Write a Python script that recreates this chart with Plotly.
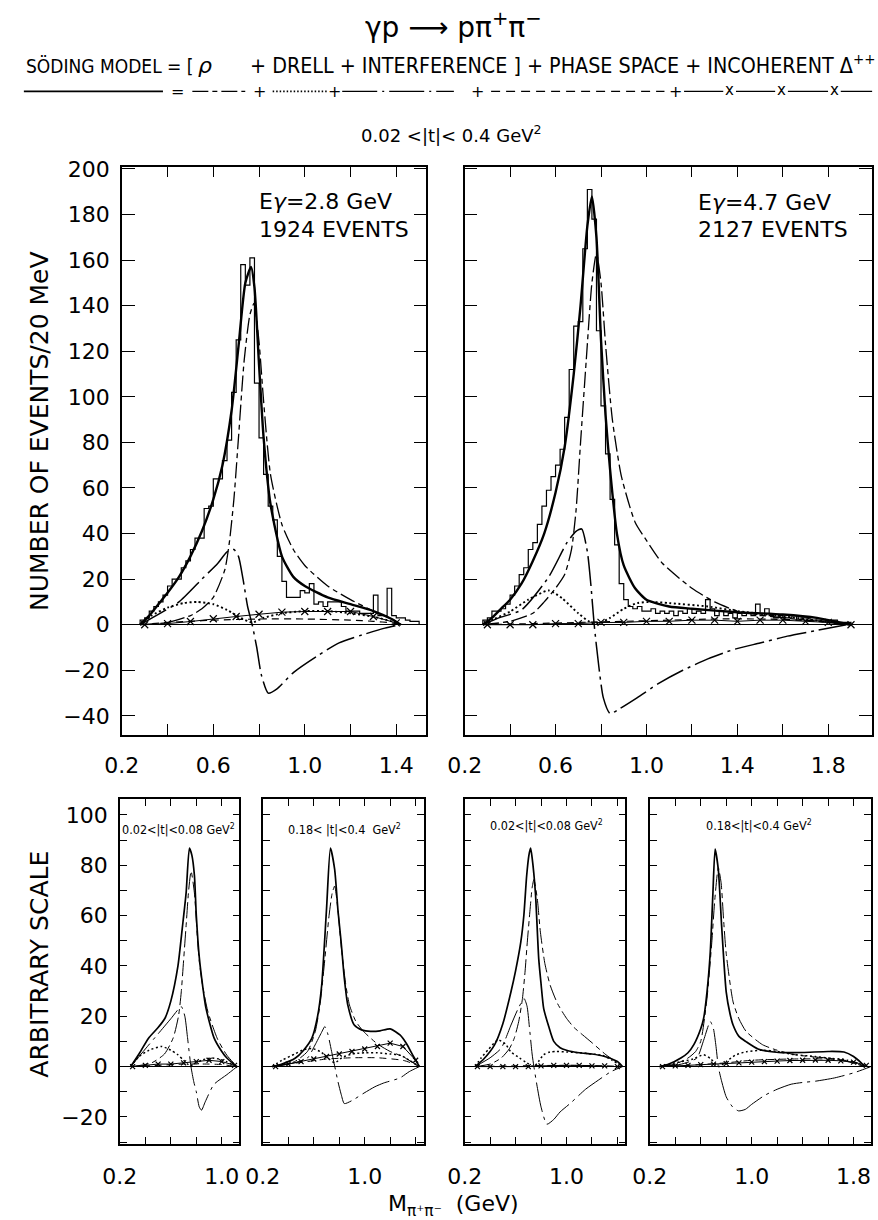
import plotly.graph_objects as go

W, H = 878, 1220
FONT = "DejaVu Sans"
NARROW = "Liberation Sans Narrow, DejaVu Sans Condensed, Arial Narrow, DejaVu Sans"

# ---------------- DATA ----------------
BIN = 0.02
# top-left: E_gamma = 2.8 GeV, histogram (20 MeV bins starting at 0.28 GeV)
tl_hist_start = 0.28
tl_hist = [2, 3, 6, 8, 10, 13, 17, 20, 20, 25, 28, 33, 38, 38, 51, 52, 64, 64, 72, 81,
           102, 125, 158, 149, 161, 106, 82, 66, 52, 46, 30, 19, 12, 12, 12, 15, 14, 18, 9, 10,
           8, 10, 10, 10, 8, 6, 6, 6, 5, 5, 5, 13, 4, 4, 16, 4, 3, 3, 2, 1.5, 1.5]
tl_total_x = [0.28, 0.32, 0.36, 0.40, 0.45, 0.50, 0.55, 0.60, 0.64, 0.68, 0.71, 0.74, 0.765, 0.78, 0.80, 0.82, 0.85, 0.90, 0.95, 1.0, 1.1, 1.2, 1.3, 1.38, 1.42]
tl_total_y = [0, 4, 9, 14, 21, 30, 41, 55, 70, 94, 122, 150, 157, 148, 114, 82, 53, 30, 21, 17, 12, 9, 6, 2.5, 0]
tl_rho_x = [0.28, 0.40, 0.50, 0.55, 0.60, 0.65, 0.67, 0.69, 0.71, 0.735, 0.76, 0.778, 0.80, 0.82, 0.85, 0.90, 0.95, 1.0, 1.1, 1.2, 1.3, 1.38, 1.42]
tl_rho_y = [0, 1, 4, 7, 12, 24, 36, 55, 82, 116, 136, 141, 124, 98, 66, 44, 33, 26, 17, 11, 6, 2.5, 0]
tl_int_x = [0.28, 0.35, 0.45, 0.55, 0.62, 0.66, 0.69, 0.71, 0.73, 0.75, 0.77, 0.79, 0.81, 0.84, 0.88, 0.95, 1.05, 1.15, 1.25, 1.35, 1.42]
tl_int_y = [0, 4, 10, 20, 27, 32, 33, 30, 20, 8, 0, -10, -22, -30, -28, -21, -14, -8, -4.5, -1.5, 0]
tl_drell_x = [0.28, 0.33, 0.40, 0.47, 0.53, 0.60, 0.66, 0.72, 0.77, 0.82, 0.90, 1.0, 1.1, 1.2, 1.3, 1.38, 1.42]
tl_drell_y = [0, 4, 7.5, 9.5, 10, 9, 6.5, 3, 1, 3, 5, 6, 6, 5, 3.5, 1.5, 0]
tl_ps_x = [0.28, 0.4, 0.5, 0.6, 0.8, 1.0, 1.2, 1.3, 1.38, 1.42]
tl_ps_y = [0, 1, 1.5, 2, 2.5, 2.5, 2, 1.5, 0.8, 0]
tl_delta_x = [0.3, 0.4, 0.5, 0.6, 0.7, 0.8, 0.9, 1.0, 1.1, 1.2, 1.3, 1.4]
tl_delta_y = [0, 0.5, 1.4, 2.6, 3.6, 4.6, 5.5, 5.8, 5.8, 5.8, 3.6, 0.8]

# top-right: E_gamma = 4.7 GeV
tr_hist_start = 0.28
tr_hist = [2, 3, 6, 6, 7, 9, 13, 17, 22, 25, 33, 36, 44, 52, 59, 65, 70, 77, 91, 112,
           131, 133, 165, 191, 178, 129, 96, 75, 55, 35, 18, 11, 8, 7, 8, 6, 6, 7, 5, 6,
           5, 6, 4, 6, 5, 7, 5, 6, 5, 11, 7, 4, 6, 4, 5, 3, 5, 4, 5, 4,
           9, 4, 7, 4, 3, 4, 3, 3, 4, 2, 3, 3, 2, 2, 2, 2, 1, 2, 1, 1, 1]
tr_total_x = [0.28, 0.32, 0.36, 0.40, 0.45, 0.50, 0.55, 0.60, 0.64, 0.68, 0.71, 0.74, 0.76, 0.78, 0.80, 0.82, 0.84, 0.87, 0.90, 0.95, 1.0, 1.1, 1.2, 1.4, 1.6, 1.75, 1.85, 1.90]
tr_total_y = [0, 3, 7, 11, 18, 28, 40, 58, 78, 110, 140, 175, 188, 170, 125, 92, 68, 40, 26, 16, 11, 8, 7, 5.5, 4.5, 3, 1, 0]
tr_rho_x = [0.28, 0.40, 0.50, 0.55, 0.60, 0.64, 0.67, 0.69, 0.71, 0.735, 0.76, 0.78, 0.80, 0.82, 0.85, 0.89, 0.95, 1.0, 1.07, 1.2, 1.3, 1.4, 1.55, 1.7, 1.85, 1.90]
tr_rho_y = [0, 1.5, 5, 10, 16, 22, 33, 50, 80, 116, 150, 163, 150, 123, 90, 65, 45, 37, 27, 16, 10, 6, 3.6, 2, 0.5, 0]
tr_int_x = [0.28, 0.35, 0.45, 0.57, 0.65, 0.69, 0.715, 0.74, 0.755, 0.77, 0.79, 0.81, 0.84, 0.88, 0.96, 1.05, 1.16, 1.27, 1.38, 1.5, 1.62, 1.75, 1.88]
tr_int_y = [0, 3, 6.5, 21, 36, 41, 42, 32, 18, 0, -18, -32, -39, -37, -32, -26, -20, -15, -11, -8, -5, -2.5, 0]
tr_drell_x = [0.28, 0.33, 0.40, 0.48, 0.57, 0.63, 0.70, 0.76, 0.80, 0.84, 0.90, 0.96, 1.02, 1.1, 1.27, 1.4, 1.55, 1.7, 1.84, 1.90]
tr_drell_y = [0, 2.5, 5.8, 11, 15, 11.5, 5, 0.7, 1, 3, 7, 9.5, 10, 9.5, 8, 6, 4.3, 2.5, 0.7, 0]
tr_ps_x = [0.28, 0.5, 0.7, 0.9, 1.1, 1.3, 1.5, 1.7, 1.82, 1.90]
tr_ps_y = [0, 0.5, 1, 1.5, 2, 2.5, 2.5, 2, 1, 0]
tr_delta_x = [0.3, 0.4, 0.5, 0.6, 0.7, 0.8, 0.9, 1.0, 1.1, 1.2, 1.3, 1.4, 1.5, 1.6, 1.7, 1.8, 1.9]
tr_delta_y = [0, 0, 0, 0.5, 0.5, 1, 1, 1.5, 1.5, 2, 2, 1.5, 2, 2, 1.5, 1, 0]

# bottom panels (arbitrary scale)
p1_total_x = [0.285, 0.35, 0.425, 0.50, 0.554, 0.60, 0.656, 0.69, 0.72, 0.746, 0.765, 0.785, 0.80, 0.823, 0.85, 0.875, 0.94, 1.0, 1.04, 1.09, 1.12]
p1_total_y = [0, 5, 11.3, 15.5, 19.2, 26, 40, 55, 69, 86.8, 84, 76, 60, 43.6, 32, 23.4, 11.3, 6, 3.4, 1.2, 0]
p1_rho_x = [0.30, 0.45, 0.55, 0.618, 0.66, 0.682, 0.70, 0.72, 0.74, 0.759, 0.785, 0.81, 0.823, 0.85, 0.89, 0.966, 1.04, 1.12]
p1_rho_y = [0, 1.5, 5, 11.3, 20, 29.7, 42, 56, 70, 77.6, 69, 50, 42, 32, 22, 11, 4.5, 0]
p1_int_x = [0.285, 0.40, 0.50, 0.60, 0.682, 0.71, 0.73, 0.758, 0.78, 0.80, 0.823, 0.841, 0.87, 0.938, 1.04, 1.12]
p1_int_y = [0, 7, 13, 19, 23.8, 20, 12, 0, -6, -10, -16, -17.3, -14, -7.1, -3.2, 0]
p1_drell_x = [0.285, 0.35, 0.43, 0.528, 0.60, 0.656, 0.70, 0.75, 0.80, 0.85, 0.915, 0.98, 1.04, 1.12]
p1_drell_y = [0, 4, 6.5, 8, 6.5, 4.7, 2.5, 0.4, 1.5, 2.7, 3.4, 3, 1.9, 0]
p1_ps_x = [0.285, 0.5, 0.7, 0.9, 1.0, 1.12]
p1_ps_y = [0, 0.5, 1, 1, 0.8, 0]
p1_delta_x = [0.3, 0.4, 0.5, 0.6, 0.7, 0.8, 0.9, 1.0, 1.1]
p1_delta_y = [0, 0.5, 1, 1, 1.5, 2, 2.5, 2, 0.5]

p2_total_x = [0.272, 0.35, 0.456, 0.52, 0.585, 0.63, 0.662, 0.70, 0.731, 0.764, 0.79, 0.815, 0.84, 0.867, 0.918, 0.98, 1.046, 1.12, 1.2, 1.277, 1.33, 1.38, 1.43]
p2_total_y = [0, 1, 3.4, 6.5, 11.3, 20, 32.3, 62.5, 86.8, 78.3, 62, 49.4, 35, 24.5, 16.5, 14.5, 14, 14.2, 15, 12.6, 9, 4.3, 0]
p2_rho_x = [0.28, 0.45, 0.55, 0.61, 0.65, 0.687, 0.72, 0.745, 0.764, 0.79, 0.815, 0.85, 0.88, 0.93, 0.99, 1.1, 1.2, 1.3, 1.38, 1.43]
p2_rho_y = [0, 2, 6, 13.6, 25, 42.8, 60, 69, 71.7, 62, 48, 33, 24.5, 18, 14, 9, 6, 4, 1.5, 0]
p2_int_x = [0.28, 0.45, 0.55, 0.61, 0.66, 0.687, 0.71, 0.74, 0.765, 0.79, 0.815, 0.84, 0.9, 0.995, 1.08, 1.15, 1.277, 1.35, 1.43]
p2_int_y = [0, 1.5, 3.4, 8.6, 13.5, 15.9, 13, 6, 0, -6, -11, -14.7, -13.5, -10.5, -8, -6.5, -4.5, -2, 0]
p2_drell_x = [0.272, 0.35, 0.45, 0.52, 0.585, 0.65, 0.72, 0.765, 0.82, 0.9, 1.0, 1.1, 1.2, 1.28, 1.35, 1.43]
p2_drell_y = [0, 2.5, 5, 6.7, 7.2, 6, 3, 1.5, 3.5, 5, 5.5, 5.5, 5, 4.5, 2.5, 0]
p2_ps_x = [0.272, 0.4, 0.55, 0.7, 0.9, 1.1, 1.3, 1.38, 1.43]
p2_ps_y = [0, 1, 2, 3, 3.5, 3.5, 2.5, 1.2, 0]
p2_delta_x = [0.3, 0.4, 0.5, 0.6, 0.7, 0.8, 0.9, 1.0, 1.1, 1.2, 1.3, 1.4]
p2_delta_y = [0, 1, 2, 3, 4, 5, 6, 7, 8, 9.3, 8, 2.5]

p3_total_x = [0.282, 0.35, 0.436, 0.50, 0.564, 0.60, 0.641, 0.665, 0.687, 0.705, 0.718, 0.73, 0.756, 0.782, 0.80, 0.821, 0.86, 0.90, 0.95, 1.0, 1.1, 1.2, 1.3, 1.4, 1.44]
p3_total_y = [0, 3, 8.7, 17, 29.7, 38, 49.4, 60, 75.7, 84, 86.8, 83, 69, 42.8, 33, 23, 16, 10, 7.5, 6.5, 5.5, 5, 4, 2, 0]
p3_rho_x = [0.282, 0.40, 0.487, 0.55, 0.59, 0.625, 0.654, 0.675, 0.692, 0.715, 0.73, 0.744, 0.77, 0.795, 0.83, 0.872, 0.93, 1.0, 1.06, 1.127, 1.2, 1.31, 1.4, 1.44]
p3_rho_y = [0, 1, 3.4, 7, 11.3, 18, 27, 38, 49.4, 63, 71, 74.3, 67, 53.4, 41, 32.3, 25, 19.2, 15.5, 12.6, 9.5, 4.7, 1.5, 0]
p3_int_x = [0.282, 0.40, 0.487, 0.564, 0.62, 0.667, 0.69, 0.71, 0.73, 0.744, 0.77, 0.80, 0.846, 0.9, 0.95, 1.03, 1.15, 1.25, 1.35, 1.44]
p3_int_y = [0, 3.5, 7.3, 16.5, 23, 27, 24, 15, 5, 0, -8, -16, -22.9, -21, -18, -14.6, -9, -5.4, -2, 0]
p3_drell_x = [0.282, 0.33, 0.385, 0.462, 0.52, 0.564, 0.63, 0.69, 0.744, 0.78, 0.82, 0.87, 0.92, 1.0, 1.1, 1.2, 1.28, 1.36, 1.44]
p3_drell_y = [0, 3.5, 6.7, 10.6, 9, 5.8, 3.5, 1.4, 0, 2, 4.7, 5.8, 6, 5.8, 5.5, 5, 4.5, 2.5, 0]
p3_ps_x = [0.282, 0.6, 1.0, 1.3, 1.44]
p3_ps_y = [0, 0.3, 0.5, 0.3, 0]
p3_delta_x = [0.3, 0.4, 0.5, 0.6, 0.7, 0.8, 0.9, 1.0, 1.1, 1.2, 1.3, 1.4]
p3_delta_y = [0, 0, 0, 0, 0, 0.3, 0.5, 0.5, 0.5, 0.3, 0.3, 0]

p4_total_x = [0.277, 0.35, 0.444, 0.50, 0.546, 0.60, 0.623, 0.65, 0.675, 0.695, 0.713, 0.738, 0.764, 0.80, 0.83, 0.854, 0.90, 0.956, 1.05, 1.213, 1.4, 1.6, 1.725, 1.8, 1.86, 1.89]
p4_total_y = [0, 1, 3.4, 5.5, 8.7, 15, 19.2, 30, 45.5, 68, 86.4, 78.3, 56, 29.7, 21, 16.5, 12, 9.9, 7, 5.6, 5.6, 6, 5.8, 4, 1.5, 0]
p4_rho_x = [0.277, 0.40, 0.50, 0.56, 0.60, 0.649, 0.687, 0.71, 0.738, 0.76, 0.78, 0.80, 0.854, 0.90, 0.956, 1.085, 1.2, 1.34, 1.5, 1.6, 1.75, 1.89]
p4_rho_y = [0, 1, 3.4, 6, 10, 27, 49.4, 66, 79, 73, 58, 45, 25.7, 19, 14, 8.7, 6.5, 4.7, 3.8, 3.4, 2, 0]
p4_int_x = [0.277, 0.45, 0.57, 0.62, 0.675, 0.70, 0.72, 0.738, 0.76, 0.80, 0.85, 0.897, 0.95, 1.0, 1.1, 1.2, 1.31, 1.4, 1.5, 1.65, 1.8, 1.9, 1.935]
p4_int_y = [0, 1, 3.4, 10, 17.9, 15, 8, 0, -5, -12, -16, -17.6, -17, -15, -11.5, -9, -7, -6.3, -5.8, -4.5, -2.5, -0.7, 0]
p4_drell_x = [0.277, 0.40, 0.54, 0.623, 0.68, 0.74, 0.80, 0.87, 0.956, 1.085, 1.2, 1.34, 1.5, 1.6, 1.75, 1.89]
p4_drell_y = [0, 1.5, 3, 4.7, 3, 0, 2, 4.5, 5.9, 6.5, 6, 4.7, 4, 3.4, 2.5, 0]
p4_ps_x = [0.277, 0.5, 0.8, 1.0, 1.3, 1.6, 1.8, 1.89]
p4_ps_y = [0, 0.5, 1.5, 2.5, 3, 3, 2, 0]
p4_delta_x = [0.3, 0.4, 0.5, 0.6, 0.7, 0.8, 0.9, 1.0, 1.1, 1.2, 1.3, 1.4, 1.5, 1.6, 1.7, 1.8, 1.9]
p4_delta_y = [0, 0.3, 0.5, 0.8, 1, 1.2, 1.5, 1.8, 2, 2.2, 2.4, 2.5, 2.6, 2.5, 2.3, 1.8, 0.5]

top_y_ticks = [-40, -20, 0, 20, 40, 60, 80, 100, 120, 140, 160, 180, 200]
bot_y_ticks = [-30, -20, -10, 0, 10, 20, 30, 40, 50, 60, 70, 80, 90, 100]

# ---------------- LAYOUT GEOMETRY (pixels) ----------------
def xdom(a, b):
    return [a / W, b / W]

def ydom(top, bottom):
    return [1 - bottom / H, 1 - top / H]

panels = {
    "TL": ((106, 417), (158, 731), [0.2, 1.532], [-48.4, 201.0]),
    "TR": ((456, 872), (158, 731), [0.2, 1.993], [-48.4, 201.0]),
    "P1": ((104, 226), (796, 1143), [0.2, 1.138], [-30.6, 106.1]),
    "P2": ((250, 414), (796, 1143), [0.2, 1.462], [-30.6, 106.1]),
    "P3": ((456, 620), (796, 1143), [0.2, 1.462], [-30.6, 106.1]),
    "P4": ((645, 871), (796, 1143), [0.2, 1.938], [-30.6, 106.1]),
}
order = ["TL", "TR", "P1", "P2", "P3", "P4"]

fig = go.Figure()

STY = {
    "total": dict(color="black", width=2.4),
    "rho": dict(color="black", width=1.2, dash="16px,4px,5px,4px"),
    "drell": dict(color="black", width=1.9, dash="2px,2.6px"),
    "int": dict(color="black", width=1.3, dash="30px,5px,3px,5px"),
    "ps": dict(color="black", width=1.2, dash="7px,5px"),
    "delta": dict(color="black", width=1.0),
}


def add_curve(idx, xs, ys, kind, width=None, msize=7):
    ln = dict(STY[kind])
    if width is not None:
        ln["width"] = width
    ax = "" if idx == 1 else str(idx)
    kw = dict(x=xs, y=ys, mode="lines", line=dict(ln, shape="spline", smoothing=0.6),
              xaxis="x" + ax, yaxis="y" + ax, hoverinfo="skip", showlegend=False)
    if kind == "delta":
        kw["mode"] = "lines+markers"
        kw["marker"] = dict(symbol="x-thin", size=msize, line=dict(width=1.2, color="black"), color="black")
        kw["line"] = dict(ln, shape="linear")
    fig.add_trace(go.Scatter(**kw))


def add_hist(idx, start, counts):
    edges = [start + i * BIN for i in range(len(counts) + 1)]
    xs = [edges[0]] + edges + [edges[-1]]
    ys = [0] + list(counts) + [counts[-1], 0]
    ax = "" if idx == 1 else str(idx)
    fig.add_trace(go.Scatter(x=xs, y=ys, mode="lines", line=dict(color="black", width=1.2, shape="hv"),
                             xaxis="x" + ax, yaxis="y" + ax, hoverinfo="skip", showlegend=False))


add_hist(1, tl_hist_start, tl_hist)
add_curve(1, tl_ps_x, tl_ps_y, "ps")
add_curve(1, tl_delta_x, tl_delta_y, "delta")
add_curve(1, tl_drell_x, tl_drell_y, "drell")
add_curve(1, tl_int_x, tl_int_y, "int", 1.5)
add_curve(1, tl_rho_x, tl_rho_y, "rho", 1.3)
add_curve(1, tl_total_x, tl_total_y, "total")

add_hist(2, tr_hist_start, tr_hist)
add_curve(2, tr_ps_x, tr_ps_y, "ps")
add_curve(2, tr_delta_x, tr_delta_y, "delta")
add_curve(2, tr_drell_x, tr_drell_y, "drell")
add_curve(2, tr_int_x, tr_int_y, "int", 1.5)
add_curve(2, tr_rho_x, tr_rho_y, "rho", 1.3)
add_curve(2, tr_total_x, tr_total_y, "total")

bottom = [
    (3, p1_total_x, p1_total_y, p1_rho_x, p1_rho_y, p1_int_x, p1_int_y, p1_drell_x, p1_drell_y, p1_ps_x, p1_ps_y, p1_delta_x, p1_delta_y),
    (4, p2_total_x, p2_total_y, p2_rho_x, p2_rho_y, p2_int_x, p2_int_y, p2_drell_x, p2_drell_y, p2_ps_x, p2_ps_y, p2_delta_x, p2_delta_y),
    (5, p3_total_x, p3_total_y, p3_rho_x, p3_rho_y, p3_int_x, p3_int_y, p3_drell_x, p3_drell_y, p3_ps_x, p3_ps_y, p3_delta_x, p3_delta_y),
    (6, p4_total_x, p4_total_y, p4_rho_x, p4_rho_y, p4_int_x, p4_int_y, p4_drell_x, p4_drell_y, p4_ps_x, p4_ps_y, p4_delta_x, p4_delta_y),
]
for (i, tx, ty, rx, ry, ix, iy, dx, dy, px_, py_, ax_, ay_) in bottom:
    add_curve(i, px_, py_, "ps", 1.0)
    add_curve(i, ax_, ay_, "delta", msize=5)
    add_curve(i, dx, dy, "drell", 1.5)
    add_curve(i, ix, iy, "int", 1.0)
    add_curve(i, rx, ry, "rho", 1.0)
    add_curve(i, tx, ty, "total", 1.7)

# ---------------- AXES ----------------
layout = dict(width=W, height=H, margin=dict(l=0, r=0, t=0, b=0),
              paper_bgcolor="white", plot_bgcolor="white", showlegend=False)

def frange(a, b, step):
    out = []
    v = a
    while v <= b + 1e-9:
        out.append(round(v, 3))
        v += step
    return out

for k, name in enumerate(order, start=1):
    (x0, x1), (y0, y1), xr, yr = panels[name]
    top = name in ("TL", "TR")
    xt = frange(0.2, xr[1], 0.2)
    if top:
        xtext = [("%.1f" % v) if abs(round((v - 0.2) / 0.4) - (v - 0.2) / 0.4) < 1e-6 else "" for v in xt]
    else:
        xtext = [("%.1f" % v) if v in (0.2, 1.0, 1.8) else "" for v in xt]
    yt = top_y_ticks if top else bot_y_ticks
    if name == "TL":
        ytext = [str(v).replace("-", "\u2212") for v in yt]
    elif name == "P1":
        ytext = [str(v).replace("-", "\u2212") if v % 20 == 0 else "" for v in yt]
    else:
        ytext = ["" for v in yt]
    sfx = "" if k == 1 else str(k)
    layout["xaxis" + sfx] = dict(
        domain=xdom(x0, x1), range=xr, anchor="y" + sfx, showgrid=False, zeroline=False,
        showline=True, linecolor="black", linewidth=1.5, mirror="ticks",
        ticks="inside", ticklen=11 if top else 7, tickwidth=1.3, tickcolor="black",
        tickvals=xt, ticktext=xtext, ticklabelstandoff=10 if top else 12,
        tickfont=dict(family=FONT, size=22, color="black"), fixedrange=True)
    layout["yaxis" + sfx] = dict(
        domain=ydom(y0, y1), range=yr, anchor="x" + sfx, showgrid=False,
        zeroline=True, zerolinecolor="black", zerolinewidth=1.1,
        showline=True, linecolor="black", linewidth=1.5, mirror="ticks",
        ticks="inside", ticklen=13 if top else 7, tickwidth=1.3, tickcolor="black",
        tickvals=yt, ticktext=ytext, ticklabelstandoff=6,
        tickfont=dict(family=FONT, size=22, color="black"), fixedrange=True)

fig.update_layout(**layout)

# ---------------- TEXT ----------------
def ann(text, px, py, size, xanchor="center", yanchor="middle", angle=0, family=FONT):
    fig.add_annotation(text=text, x=px / W, y=1 - py / H, xref="paper", yref="paper",
                       showarrow=False, xanchor=xanchor, yanchor=yanchor, textangle=angle,
                       font=dict(family=family, size=size, color="black"))

ann("\u03b3p \u27f6 p\u03c0<sup>+</sup>\u03c0<sup>\u2212</sup>", 445, 16, 28)
ann("S\u00d6DING MODEL = [", 6, 56, 19, xanchor="left", family=NARROW)
ann("<i>\u03c1</i>", 191, 56, 22)
ann("+ DRELL + INTERFERENCE ] + PHASE SPACE + INCOHERENT \u0394<sup>++</sup>", 877, 54, 21.3,
    xanchor="right", family=NARROW)
ann("0.02 &lt;|t|&lt; 0.4 GeV<sup>2</sup>", 443, 125, 18)

# legend key row
def seg(x0, x1, py, **line):
    fig.add_shape(type="line", xref="paper", yref="paper", x0=x0 / W, x1=x1 / W,
                  y0=1 - py / H, y1=1 - py / H, line=dict(color="black", **line))

LY = 82
seg(6, 148, LY, width=1.6)
ann("=", 163, LY, 16)
seg(178, 232, LY, width=1.3, dash="16px,4px,5px,4px")
ann("+", 247, LY, 16)
seg(260, 316, LY, width=1.6, dash="1.5px,2px")
ann("+", 323, LY, 16)
seg(331, 445, LY, width=1.3, dash="35px,5px,2px,5px")
ann("+", 469, LY, 16)
seg(483, 660, LY, width=1.3, dash="9px,6px")
ann("+", 671, LY, 16)
for a, b in [(680, 720), (733, 773), (786, 827), (840, 872)]:
    seg(a, b, LY, width=1.3)
for xx in (726.5, 779.5, 833.5):
    ann("x", xx, LY - 1, 15)

# panel labels
ann("E<i>\u03b3</i>=2.8 GeV", 244, 193, 22, xanchor="left")
ann("1924 EVENTS", 244, 221, 22, xanchor="left")
ann("E<i>\u03b3</i>=4.7 GeV", 692, 194, 22, xanchor="left")
ann("2127 EVENTS", 692, 221, 22, xanchor="left")

ann("0.02&lt;|t|&lt;0.08 GeV<sup>2</sup>", 164, 826, 12.5, family=NARROW)
ann("0.18&lt; |t|&lt;0.4  GeV<sup>2</sup>", 333, 826, 12.5, family=NARROW)
ann("0.02&lt;|t|&lt;0.08 GeV<sup>2</sup>", 540, 822, 12.5, family=NARROW)
ann("0.18&lt;|t|&lt;0.4 GeV<sup>2</sup>", 757, 822, 12.5, family=NARROW)

ann("NUMBER OF EVENTS/20 MeV", 22, 425, 25, angle=-90)
ann("ARBITRARY SCALE", 22, 962, 25, angle=-90)
ann("M<sub>\u03c0\u207a\u03c0\u207b</sub>  (GeV)", 445, 1205, 22)

fig.write_html("out.html")
